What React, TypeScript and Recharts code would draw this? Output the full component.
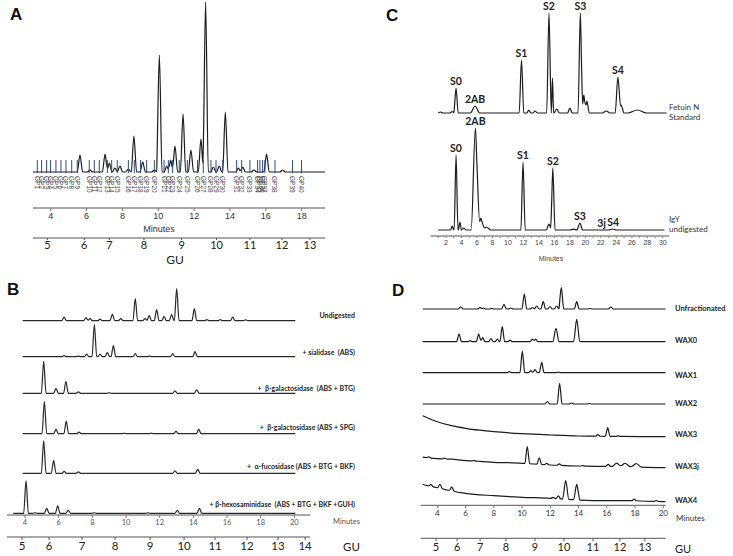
import React from 'react';
import { ComposedChart, Line, XAxis, YAxis, Scatter } from 'recharts';

// ---------- shared helpers ----------
type Peak = number[]; // [minute, height, halfWidth?]
interface Trace { range: number[]; peaks: Peak[]; w: number; base?: number[][] }

function baseAt(base: number[][] | undefined, x: number) {
  if (!base || base.length === 0) return 0;
  if (x <= base[0][0]) return base[0][1];
  for (let i = 1; i < base.length; i++) {
    if (x <= base[i][0]) {
      const [x0, y0] = base[i - 1];
      const [x1, y1] = base[i];
      return y0 + ((y1 - y0) * (x - x0)) / (x1 - x0);
    }
  }
  return base[base.length - 1][1];
}
function levelAt(t: Trace, x: number) {
  return (
    baseAt(t.base, x) +
    t.peaks.reduce((s, p) => {
      const w = p[2] ?? t.w;
      const d = Math.abs(x - p[0]);
      return d < w ? s + p[1] * (1 - d / w) : s;
    }, 0)
  );
}
function rows(t: Trace, offset: number) {
  const set = new Set<number>([t.range[0], t.range[1]]);
  (t.base || []).forEach((b) => set.add(b[0]));
  t.peaks.forEach((p) => {
    const w = p[2] ?? t.w;
    set.add(+(p[0] - w).toFixed(3));
    set.add(p[0]);
    set.add(+(p[0] + w).toFixed(3));
  });
  const xs = [...set].filter((x) => x >= t.range[0] && x <= t.range[1]).sort((a, b) => a - b);
  return xs.map((x) => ({ x, y: offset + levelAt(t, x) }));
}

// ---------- Panel A data ----------
const aMinuteTicks = [4, 6, 8, 10, 12, 14, 16, 18];
const aGuLabels = [5, 6, 7, 8, 9, 10, 11, 12, 13];
const aGuAtMinute = [3.81, 5.87, 7.27, 9.2, 11.3, 13.25, 15.11, 16.9, 18.46];
const aTrace: Trace = {
  range: [3.0, 19.3],
  w: 0.15,
  peaks: [
    [5.63, 17], [6.19, 2], [7.03, 18], [7.27, 9], [7.58, 4], [7.86, 6], [8.33, 3], [8.64, 36],
    [9.13, 10], [9.78, 2], [10.06, 117], [10.47, 6], [10.69, 12], [10.93, 26], [11.38, 58],
    [11.82, 22], [12.38, 33], [12.64, 170], [13.07, 5], [13.4, 6], [13.74, 60], [14.47, 4],
    [14.71, 5], [15.34, 2], [16.04, 18], [16.93, 2],
  ],
};
const gpMinutes = [
  3.25, 3.49, 3.77, 3.99, 4.29, 4.57, 4.85, 5.17, 5.48, 6.15, 6.43, 6.71, 7.16, 7.4, 7.71, 8.33,
  8.66, 9.01, 9.35, 9.78, 10.32, 10.56, 10.8, 11.17, 11.62, 12.19, 12.51, 12.94, 13.22, 13.59,
  14.37, 14.65, 15.11, 15.54, 15.67, 15.82, 15.95, 16.51, 17.49, 17.99,
];

// ---------- Panel B data ----------
const bMinuteTicks = [4, 6, 8, 10, 12, 14, 16, 18, 20];
const bGuLabels = [5, 6, 7, 8, 9, 10, 11, 12, 13, 14];
const bGuAtMinute = [3.82, 5.43, 7.39, 9.35, 11.43, 13.45, 15.29, 17.19, 19.03, 20.64];
const bNames = [
  'Undigested',
  '+ sialidase  (ABS)',
  '+  β-galactosidase  (ABS + BTG)',
  '+  β-galactosidase (ABS + SPG)',
  '+  α-fucosidase (ABS + BTG + BKF)',
  '+ β-hexosaminidase  (ABS + BTG + BKF +GUH)',
];
const bUndigested: Peak[] = [
  [6.32, 3.5], [7.62, 3], [7.86, 2], [8.46, 1.5], [9.19, 6.5], [9.69, 2], [10.55, 22], [11.13, 2],
  [11.38, 5], [11.82, 11], [12.26, 4], [12.71, 6], [13.01, 32], [14.06, 12], [14.8, 1], [15.6, 1],
  [16.34, 3.5], [17.1, 0.8],
];
const bSialidase: Peak[] = [
  [6.32, 1], [7.17, 0.6], [7.66, 2.5], [8.12, 32], [8.46, 2.5], [8.89, 4], [9.25, 11], [10.55, 3],
  [11.4, 0.6], [12.77, 3], [14.1, 5],
];
const bGalBTG: Peak[] = [[5.11, 32], [5.84, 5], [6.43, 12], [7.17, 1.5], [9.0, 0.5], [12.91, 2.5], [14.2, 3.5]];
const bGalSPG: Peak[] = [
  [5.15, 32], [5.84, 4.5], [6.45, 12.5], [7.21, 1.5], [9.9, 0.5], [11.5, 0.5], [12.97, 2.5], [14.32, 4.5],
];
const bFucosidase: Peak[] = [[5.11, 32.5], [5.7, 13], [6.33, 2], [7.17, 1.5], [12.91, 2.5], [14.26, 4]];
const bHexosaminidase: Peak[] = [
  [4.06, 32.5], [4.6, 0.5], [5.29, 5], [5.94, 7.5], [6.57, 3], [8.1, 0.5], [11.3, 0.5], [13.05, 3], [14.36, 5],
];
const bTraces: Trace[] = [
  { range: [3.86, 20.06], w: 0.14, peaks: bUndigested },
  { range: [3.86, 20.06], w: 0.14, peaks: bSialidase },
  { range: [3.86, 20.06], w: 0.14, peaks: bGalBTG },
  { range: [3.86, 20.06], w: 0.14, peaks: bGalSPG },
  { range: [3.86, 20.06], w: 0.14, peaks: bFucosidase },
  { range: [3.3, 20.06], w: 0.14, peaks: bHexosaminidase },
];
const bOffsets = [194.3, 158.3, 121.7, 81.3, 41.7, 1.7];
const bLabelY = [315, 351.5, 388, 426.7, 466, 504];

// ---------- Panel C data ----------
const cTicks = Array.from({ length: 30 }, (_, i) => i + 1);
const cFetuin: Peak[] = [
  [1.3, 1], [2.8, 1.5], [3.3, 25, 0.28], [5.75, 7, 0.6], [11.75, 53, 0.3], [12.7, 3, 0.25],
  [13.5, 2, 0.3], [15.3, 100, 0.3], [15.75, 35, 0.15], [16.3, 4, 0.35], [18.0, 5, 0.3],
  [19.35, 100, 0.3], [19.8, 18, 0.3], [20.2, 12, 0.3], [22.7, 2, 0.5], [24.2, 36, 0.35],
  [24.6, 8, 0.4], [26.7, 3, 1.2],
];
const cIgY: Peak[] = [
  [2.8, 4, 0.2], [3.3, 75, 0.25], [3.8, 8, 0.2], [4.3, 2, 0.3], [5.8, 102, 0.55], [6.5, 12, 0.5],
  [7.2, 3, 0.6], [11.95, 68, 0.28], [15.3, 6, 0.35], [15.8, 62, 0.28], [18.5, 0.8, 0.5],
  [19.3, 7, 0.35], [23.5, 1, 0.5],
];
const cFetuinTrace: Trace = { range: [1.0, 30.5], w: 0.3, peaks: cFetuin };
const cIgYTrace: Trace = { range: [1.0, 30.2], w: 0.3, peaks: cIgY };
const cFetuinOffset = 123;
const cIgYOffset = 6;
const cFetuinPeakNames: [string, number][] = [['S0', 3.3], ['2AB', 5.75], ['S1', 11.75], ['S2', 15.3], ['S3', 19.35], ['S4', 24.2]];
const cIgYPeakNames: [string, number][] = [['S0', 3.3], ['2AB', 5.8], ['S1', 11.95], ['S2', 15.8], ['S3', 19.3], ['3j', 22.1], ['S4', 23.6]];

// ---------- Panel D data ----------
const dMinuteTicks = [4, 6, 8, 10, 12, 14, 16, 18, 20];
const dGuLabels = [5, 6, 7, 8, 9, 10, 11, 12, 13];
const dGuAtMinute = [3.91, 5.4, 7.03, 8.86, 10.92, 12.97, 15.02, 16.93, 18.7];
const dNames = ['Unfractionated', 'WAX0', 'WAX1', 'WAX2', 'WAX3', 'WAX3j', 'WAX4'];
const dUnfrac: Peak[] = [
  [5.66, 2], [7.02, 1.5], [7.26, 1], [7.85, 0.6], [8.72, 4.7], [9.2, 1], [10.16, 15], [10.73, 1.5],
  [11.04, 3], [11.5, 7.3], [11.98, 2.5], [12.45, 3], [12.78, 21.3], [13.87, 7.3], [14.81, 0.5], [16.28, 2],
];
const dWax0: Peak[] = [
  [5.54, 7.7], [6.32, 1], [6.93, 7.7], [7.21, 4], [7.8, 3], [8.25, 2.5], [8.6, 15], [9.15, 1.5],
  [10.73, 2.5], [10.96, 2.5], [12.4, 13.3, 0.22], [13.87, 22.3, 0.22],
];
const dWax1: Peak[] = [[9.1, 1], [10.02, 21.7], [10.63, 2], [10.92, 3], [11.39, 10.3], [12.57, 0.5]];
const dWax2: Peak[] = [[11.79, 2.5], [12.66, 20.7], [13.51, 1], [14.76, 0.5]];
const dWax3: Peak[] = [[15.36, 1.5], [16.06, 8.7], [16.8, 0.5]];
const dWax3Base = [[2.97, 21], [4, 15], [5, 11], [6, 8.4], [7, 6.5], [8, 5], [10, 3], [12, 1.7], [14, 0.7], [16, 0.4], [20.17, 0]];
const dWax3j: Peak[] = [
  [3.4, 1], [4.5, 0.8], [6.6, 0.5], [10.37, 17], [11.22, 6.5], [11.75, 1.5], [12.64, 1.5], [14.3, 0.5],
  [16.1, 2], [16.7, 3.5, 0.3], [17.29, 3.5, 0.4], [18.07, 3.5, 0.4],
];
const dWax3jBase = [[2.97, 10.5], [4, 9], [5, 8.5], [6, 7], [7, 6.4], [8, 5.4], [9, 5], [10, 4.4], [12, 2.7], [14, 1.7], [16, 1.4], [18, 0.7], [20.17, 0]];
const dWax4: Peak[] = [
  [3.55, 2], [4.19, 4], [5.02, 4], [12.2, 1], [12.57, 3], [13.09, 18.7, 0.22], [13.87, 15.5, 0.22],
  [17.93, 1.5], [19.5, 0.8],
];
const dWax4Base = [[2.97, 17.5], [3.3, 16], [4, 14], [5, 11], [6, 8.4], [8, 6], [10, 4.4], [12, 3.4], [14, 1.7], [16, 1], [18, 1], [20.17, 0]];
const dTraces: Trace[] = [
  { range: [2.97, 20.17], w: 0.17, peaks: dUnfrac },
  { range: [2.97, 20.17], w: 0.17, peaks: dWax0 },
  { range: [2.97, 20.17], w: 0.17, peaks: dWax1 },
  { range: [2.97, 20.17], w: 0.17, peaks: dWax2 },
  { range: [2.97, 20.17], w: 0.17, peaks: dWax3, base: dWax3Base },
  { range: [2.97, 20.17], w: 0.17, peaks: dWax3j, base: dWax3jBase },
  { range: [2.97, 20.17], w: 0.17, peaks: dWax4, base: dWax4Base },
];
const dOffsets = [196.3, 163.6, 132.6, 101.3, 68.6, 37.6, 3.6];
const dLabelY = [309.3, 341, 375.7, 404.3, 435, 466.7, 500.7];

// ---------- styling ----------
const INK = '#1c1c1c';
const ARIAL = '"Liberation Sans", Arial, sans-serif';
const CAL = 'Lato, "Open Sans", sans-serif';

const T = ({ x, y, children, size, bold, family = CAL, color = '#222', anchor = 'start' }: any) => (
  <div
    style={{
      position: 'absolute',
      left: x,
      top: y,
      transform: `translate(${anchor === 'middle' ? '-50%' : anchor === 'end' ? '-100%' : '0'}, -50%)`,
      fontSize: size,
      fontWeight: bold ? 700 : 400,
      fontFamily: family,
      color,
      whiteSpace: 'pre',
      lineHeight: 1,
    }}
  >
    {children}
  </div>
);

const GpMark = (p: any) => {
  const { cx, cy, payload } = p;
  return (
    <g>
      <line x1={cx} x2={cx} y1={cy + 1} y2={cy - 12} stroke="#2e4a8b" strokeWidth={1} />
      <text
        transform={`translate(${cx},${cy + 4}) rotate(90)`}
        fontSize={6.5}
        fill="#444"
        fontFamily={ARIAL}
        dominantBaseline="central"
      >
        {payload.label}
      </text>
    </g>
  );
};

const PeakName = (p: any) => {
  const { cx, cy, payload } = p;
  return (
    <text x={cx} y={cy - 3} textAnchor="middle" fontSize={10.5} fontWeight={700} fill="#222" fontFamily={CAL}>
      {payload.label}
    </text>
  );
};

const guFmt = (mins: number[], labels: number[]) => (v: number) => {
  const i = mins.indexOf(v);
  return i >= 0 ? String(labels[i]) : '';
};

export default function App() {
  const aRows = rows(aTrace, 0);
  const gpRows = gpMinutes.map((m, i) => ({ x: m, y: 0, label: `GP${i + 1}` }));
  const fetRows = rows(cFetuinTrace, cFetuinOffset);
  const igyRows = rows(cIgYTrace, cIgYOffset);
  const fetNames = cFetuinPeakNames.map(([label, m]) => ({ x: m, y: cFetuinOffset + levelAt(cFetuinTrace, m), label }));
  const igyNames = cIgYPeakNames.map(([label, m]) => ({ x: m, y: cIgYOffset + levelAt(cIgYTrace, m), label }));

  return (
    <div style={{ position: 'absolute', left: 0, top: 0, width: 733, height: 556, background: '#fff', overflow: 'hidden' }}>
      {/* Panel A */}
      <div style={{ position: 'absolute', left: 0, top: 0 }}>
        <ComposedChart width={340} height={266} margin={{ left: 33, right: 15, top: 0, bottom: 0 }}>
          <YAxis hide type="number" domain={[-36, 172]} allowDataOverflow />
          <XAxis
            dataKey="x"
            type="number"
            domain={[3.01, 19.3]}
            ticks={aMinuteTicks}
            interval={0}
            height={30}
            allowDataOverflow
            tick={{ fontSize: 9, fill: '#333', fontFamily: ARIAL }}
            tickSize={3}
            tickLine={{ stroke: '#777' }}
            axisLine={{ stroke: '#555' }}
          />
          <XAxis
            xAxisId="gu"
            dataKey="x"
            type="number"
            domain={[3.01, 19.3]}
            ticks={aGuAtMinute}
            interval={0}
            height={28}
            allowDataOverflow
            tickFormatter={guFmt(aGuAtMinute, aGuLabels)}
            tick={{ fontSize: 11, fill: '#222', fontFamily: CAL }}
            tickSize={2}
            tickMargin={1}
            tickLine={{ stroke: '#555' }}
            axisLine={{ stroke: '#555' }}
          />
          <Scatter data={gpRows} dataKey="y" shape={GpMark} isAnimationActive={false} />
          <Line data={aRows} dataKey="y" type="monotone" dot={false} stroke={INK} strokeWidth={1.2} isAnimationActive={false} />
        </ComposedChart>
      </div>
      <T x={10} y={14} size={17} bold family={ARIAL} color="#111">A</T>
      <T x={159} y={229} size={9} family={ARIAL} color="#333" anchor="middle">Minutes</T>
      <T x={175} y={260} size={12} color="#222" anchor="middle">GU</T>

      {/* Panel B */}
      <div style={{ position: 'absolute', left: 0, top: 280 }}>
        <ComposedChart width={320} height={275} margin={{ left: 7, right: 10, top: 0, bottom: 0 }}>
          <YAxis hide type="number" domain={[0, 235]} allowDataOverflow />
          <XAxis
            dataKey="x"
            type="number"
            domain={[2.93, 20.93]}
            ticks={bMinuteTicks}
            interval={0}
            height={22}
            allowDataOverflow
            tick={{ fontSize: 7.5, fill: '#555', fontFamily: CAL }}
            tickSize={3}
            tickLine={{ stroke: '#777' }}
            axisLine={{ stroke: '#555' }}
          />
          <XAxis
            xAxisId="gu"
            dataKey="x"
            type="number"
            domain={[2.93, 20.93]}
            ticks={bGuAtMinute}
            interval={0}
            height={18}
            allowDataOverflow
            tickFormatter={guFmt(bGuAtMinute, bGuLabels)}
            tick={{ fontSize: 11.5, fill: '#222', fontFamily: CAL }}
            tickSize={3}
            tickLine={{ stroke: '#555' }}
            axisLine={{ stroke: '#555' }}
          />
          {bTraces.map((t, i) => (
            <Line key={i} data={rows(t, bOffsets[i])} dataKey="y" type="monotone" dot={false} stroke="#2a2a2a" strokeWidth={1.2} isAnimationActive={false} />
          ))}
        </ComposedChart>
      </div>
      <T x={7} y={289} size={17} bold family={ARIAL} color="#111">B</T>
      {bNames.map((n, i) => (
        <T key={n} x={355} y={bLabelY[i]} size={7} bold anchor="end" color="#222">{n}</T>
      ))}
      <T x={333} y={522} size={7.5} color="#555">Minutes</T>
      <T x={343} y={547} size={11.5} color="#222">GU</T>

      {/* Panel C */}
      <div style={{ position: 'absolute', left: 420, top: 0 }}>
        <ComposedChart width={260} height={250} margin={{ left: 10.5, right: 11, top: 0, bottom: 0 }}>
          <YAxis hide type="number" domain={[0, 236]} allowDataOverflow />
          <XAxis
            dataKey="x"
            type="number"
            domain={[0, 30.8]}
            ticks={cTicks}
            interval={0}
            height={14}
            allowDataOverflow
            tickFormatter={(v: number) => (v % 2 === 0 ? String(v) : '')}
            tick={{ fontSize: 7, fill: '#444', fontFamily: ARIAL }}
            tickSize={2}
            tickLine={{ stroke: '#888' }}
            axisLine={{ stroke: '#555' }}
          />
          <Line data={fetRows} dataKey="y" type="monotone" dot={false} stroke={INK} strokeWidth={1.2} isAnimationActive={false} />
          <Line data={igyRows} dataKey="y" type="monotone" dot={false} stroke={INK} strokeWidth={1.2} isAnimationActive={false} />
          <Scatter data={fetNames} dataKey="y" shape={PeakName} isAnimationActive={false} />
          <Scatter data={igyNames} dataKey="y" shape={PeakName} isAnimationActive={false} />
        </ComposedChart>
      </div>
      <T x={386} y={15} size={17} bold family={ARIAL} color="#111">C</T>
      <T x={669} y={107} size={8} color="#333">Fetuin N</T>
      <T x={669} y={117} size={8} color="#333">Standard</T>
      <T x={669} y={219} size={8} color="#333">IgY</T>
      <T x={669} y={229} size={8} color="#333">undigested</T>
      <T x={551} y={258} size={7} family={ARIAL} color="#444" anchor="middle">Minutes</T>

      {/* Panel D */}
      <div style={{ position: 'absolute', left: 410, top: 280 }}>
        <ComposedChart width={260} height={274.3} margin={{ left: 10.7, right: 4.3, top: 0, bottom: 0 }}>
          <YAxis hide type="number" domain={[0, 225.3]} allowDataOverflow />
          <XAxis
            dataKey="x"
            type="number"
            domain={[2.825, 20.17]}
            ticks={dMinuteTicks}
            interval={0}
            height={33}
            allowDataOverflow
            tick={{ fontSize: 8, fill: '#333', fontFamily: CAL }}
            tickSize={3}
            tickLine={{ stroke: '#777' }}
            axisLine={{ stroke: '#555' }}
          />
          <XAxis
            xAxisId="gu"
            dataKey="x"
            type="number"
            domain={[2.825, 20.17]}
            ticks={dGuAtMinute}
            interval={0}
            height={16}
            allowDataOverflow
            tickFormatter={guFmt(dGuAtMinute, dGuLabels)}
            tick={{ fontSize: 11, fill: '#222', fontFamily: CAL }}
            tickSize={3}
            tickLine={{ stroke: '#555' }}
            axisLine={{ stroke: '#555' }}
          />
          {dTraces.map((t, i) => (
            <Line key={i} data={rows(t, dOffsets[i])} dataKey="y" type="monotone" dot={false} stroke={INK} strokeWidth={1.2} isAnimationActive={false} />
          ))}
        </ComposedChart>
      </div>
      <T x={392} y={290} size={17} bold family={ARIAL} color="#111">D</T>
      {dNames.map((n, i) => (
        <T key={n} x={675} y={dLabelY[i]} size={7.5} bold color="#222">{n}</T>
      ))}
      <T x={676} y={517.7} size={8} color="#333">Minutes</T>
      <T x={675} y={548.3} size={11} color="#222">GU</T>
    </div>
  );
}
